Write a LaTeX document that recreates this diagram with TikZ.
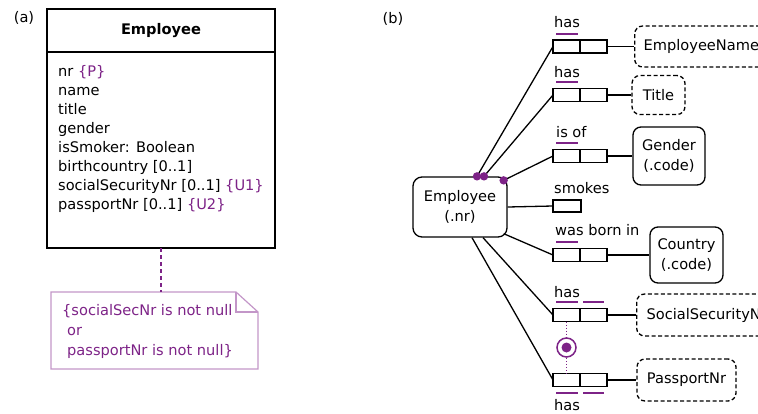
\documentclass[tikz,border=0pt]{standalone}
\usepackage{fontspec}
\setmainfont{DejaVu Sans}
\newcommand\fsz{14.6}
\definecolor{ormpurple}{RGB}{125,35,135}
\definecolor{notepurple}{RGB}{195,150,200}
\tikzset{
  txt/.style={inner sep=0pt, font=\fontsize{\fsz}{19}\selectfont},
  classbox/.style={draw, line width=1.8pt, minimum width=228pt, inner sep=0pt, outer sep=0pt, font=\fontsize{\fsz}{19}\selectfont},
  role/.style={draw, line width=1.2pt, minimum width=27pt, minimum height=13pt, inner sep=0pt, outer sep=0pt},
  ent/.style={draw, rounded corners=8pt, line width=1.3pt, inner sep=0pt, align=center, font=\fontsize{\fsz}{20}\selectfont},
  vdash/.style={dash pattern=on 4pt off 2.5pt},
  conn/.style={line width=1.3pt},
  ubar/.style={ormpurple, line width=2pt},
  mdot/.style={ormpurple},
}
\begin{document}
\begin{tikzpicture}[x=1pt,y=-1pt]
\useasboundingbox (0,0) rectangle (758,413);
\clip (0,0) rectangle (758,413);

% ---------------- (a) ----------------
\node[txt] (la) at (24,18) {(a)};
\node[classbox, minimum height=43pt] (hdr) at (161,30.5) {\bfseries Employee};
\node[classbox, minimum height=196pt, anchor=north] (body) at (hdr.south) {};
\node[txt, anchor=base west] (at1) at (58,76) {nr \textcolor{ormpurple}{\{P\}}};
\node[txt, anchor=base west] (at2) at (58,95) {name};
\node[txt, anchor=base west] (at3) at (58,114) {title};
\node[txt, anchor=base west] (at4) at (58,133) {gender};
\node[txt, anchor=base west] (at5) at (58,152) {isSmoker: Boolean};
\node[txt, anchor=base west] (at6) at (58,171) {birthcountry [0..1]};
\node[txt, anchor=base west] (at7) at (58,190) {socialSecurityNr [0..1] \textcolor{ormpurple}{\{U1\}}};
\node[txt, anchor=base west] (at8) at (58,209) {passportNr [0..1] \textcolor{ormpurple}{\{U2\}}};

% note
\draw[notepurple, line width=1.2pt] (51,292) -- (236,292) -- (258,312) -- (258,369) -- (51,369) -- cycle;
\draw[notepurple, line width=1.2pt] (236,292) -- (236,312) -- (258,312);
\coordinate (notetop) at (161,292);
\draw[ormpurple, line width=1.8pt, dash pattern=on 4pt off 3pt] (body.south) -- (notetop);
\node[txt, anchor=base west, text=ormpurple] (n1) at (62,315) {\{socialSecNr is not null};
\node[txt, anchor=base west, text=ormpurple] (n2) at (67,335) {or};
\node[txt, anchor=base west, text=ormpurple] (n3) at (67,355) {passportNr is not null\}};

% ---------------- (b) ----------------
\node[txt] (lb) at (393,19) {(b)};
\node[ent, minimum width=94pt, minimum height=60pt, rounded corners=9pt] (emp) at (460,207) {Employee\\(.nr)};

% entity / value types
\node[ent, vdash, anchor=west, minimum height=41pt, inner xsep=9pt] (en) at (634,46.5) {EmployeeName};
\node[ent, vdash, minimum width=53pt, minimum height=39pt] (ti) at (658.5,95) {Title};
\node[ent, minimum width=72pt, minimum height=58pt] (ge) at (669,156) {Gender\\(.code)};
\node[ent, minimum width=73pt, minimum height=56pt] (co) at (686.5,255) {Country\\(.code)};
\node[ent, vdash, anchor=west, minimum height=42pt, inner xsep=10pt] (ss) at (636,315) {SocialSecurityNr};
\node[ent, vdash, minimum width=99pt, minimum height=42pt] (pp) at (686.5,380) {PassportNr};

% fact types
\node[role] (f1a) at (566.5,46.5) {}; \node[role] (f1b) at (593.5,46.5) {};
\node[role] (f2a) at (566.5,95) {};   \node[role] (f2b) at (593.5,95) {};
\node[role] (f3a) at (566.5,156) {};  \node[role] (f3b) at (593.5,156) {};
\node[role, minimum width=28pt, minimum height=12pt] (f4a) at (567,206) {};
\node[role] (f5a) at (566.5,255) {};  \node[role] (f5b) at (593.5,255) {};
\node[role] (f6a) at (566.5,315) {};  \node[role] (f6b) at (593.5,315) {};
\node[role] (f7a) at (566.5,380) {};  \node[role] (f7b) at (593.5,380) {};

% labels
\node[txt, anchor=base west] (l1) at (554,27) {has};
\node[txt, anchor=base west] (l2) at (554,77) {has};
\node[txt, anchor=base west] (l3) at (556,137) {is of};
\node[txt, anchor=base west] (l4) at (554,193) {smokes};
\node[txt, anchor=base west] (l5) at (555,235) {was born in};
\node[txt, anchor=base west] (l6) at (554,297) {has};
\node[txt, anchor=base west] (l7) at (554,410) {has};

% uniqueness bars
\draw[ubar] ([xshift=3pt,yshift=6.5pt]f1a.north west) -- ([xshift=-2.5pt,yshift=6.5pt]f1a.north east);
\draw[ubar] ([xshift=3pt,yshift=6.5pt]f2a.north west) -- ([xshift=-2.5pt,yshift=6.5pt]f2a.north east);
\draw[ubar] ([xshift=3pt,yshift=6.5pt]f3a.north west) -- ([xshift=-2.5pt,yshift=6.5pt]f3a.north east);
\draw[ubar] ([xshift=3pt,yshift=6.5pt]f5a.north west) -- ([xshift=-2.5pt,yshift=6.5pt]f5a.north east);
\draw[ubar] ([xshift=3pt,yshift=6.5pt]f6a.north west) -- ([xshift=-2.5pt,yshift=6.5pt]f6a.north east);
\draw[ubar] ([xshift=3pt,yshift=6.5pt]f6b.north west) -- ([xshift=-3pt,yshift=6.5pt]f6b.north east);
\draw[ubar] ([xshift=3pt,yshift=-6pt]f7a.south west) -- ([xshift=-2.5pt,yshift=-6pt]f7a.south east);
\draw[ubar] ([xshift=3pt,yshift=-6pt]f7b.south west) -- ([xshift=-3pt,yshift=-6pt]f7b.south east);

% fact to entity connectors
\draw[conn] (f1b.east) -- (en.west);
\draw[conn] (f2b.east) -- (ti.west);
\draw[conn] (f3b.east) -- (ge.west);
\draw[conn] (f5b.east) -- (co.west);
\draw[conn] (f6b.east) -- (ss.west);
\draw[conn] (f7b.east) -- (pp.west);

% employee attachment points
\coordinate (d1) at ([xshift=17pt]emp.north);
\coordinate (d2) at ([xshift=24pt]emp.north);
\coordinate (d3) at ([xshift=-4pt,yshift=-4pt]emp.north east);
\coordinate (d4) at ([xshift=-4pt,yshift=4pt]emp.south east);
\coordinate (b1) at ([xshift=23pt]emp.south);
\coordinate (b2) at ([xshift=12pt]emp.south);

\draw[conn] (d1) -- (f1a.west);
\draw[conn] (d2) -- (f2a.west);
\draw[conn] (d3) -- (f3a.west);
\draw[conn] (emp.east) -- (f4a.west);
\draw[conn] (d4) -- (f5a.west);
\draw[conn] (b1) -- (f6a.west);
\draw[conn] (b2) -- (f7a.west);

\fill[mdot] (d1) circle (4.2);
\fill[mdot] (d2) circle (4.2);
\fill[mdot] (d3) circle (4.2);

% external constraint
\node[circle, draw=ormpurple, line width=1.5pt, minimum size=19pt, inner sep=0pt] (xc) at (566.5,347.5) {};
\fill[ormpurple] (xc.center) circle (5);
\draw[ormpurple, line width=1.5pt, dash pattern=on 1.5pt off 1.5pt] (f6a.south) -- (xc.north);
\draw[ormpurple, line width=1.5pt, dash pattern=on 1.5pt off 1.5pt] (xc.south) -- (f7a.north);
\end{tikzpicture}
\end{document}
